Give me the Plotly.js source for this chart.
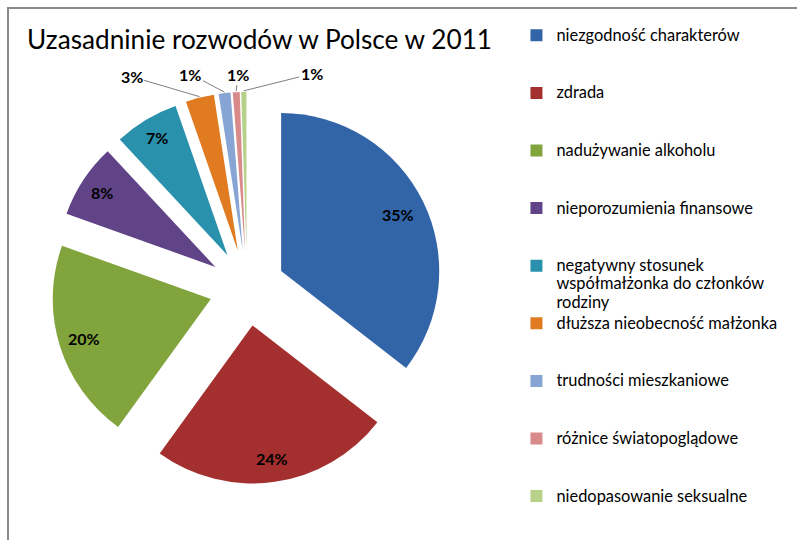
<!DOCTYPE html>
<html>
<head>
<meta charset="utf-8">
<script src="https://cdn.plot.ly/plotly-3.0.1.min.js"></script>
<style>
  html, body { margin: 0; padding: 0; background: #ffffff; }
  #frame { position: absolute; left: 7px; top: 7px; width: 790px; height: 533px;
           border-left: 2px solid #8a8a8a; border-top: 2px solid #8a8a8a; box-sizing: border-box; pointer-events: none; }
  #chart { position: absolute; left: 0; top: 0; width: 797px; height: 540px; }
</style>
</head>
<body>
<div id="chart"></div>
<div id="frame"></div>
<script>
// ---- Data ----
const categories = [
  "niezgodność charakterów",
  "zdrada",
  "nadużywanie alkoholu",
  "nieporozumienia finansowe",
  "negatywny stosunek<br>współmałżonka do członków<br>rodziny",
  "dłuższa nieobecność małżonka",
  "trudności mieszkaniowe",
  "różnice światopoglądowe",
  "niedopasowanie seksualne"
];
const shares = [35.49, 24.49, 20.49, 7.6, 6.6, 2.9, 1.2, 0.7, 0.53];
const colors = ["#3264A8", "#A3302F", "#82A43C", "#604487", "#2A91AD",
                "#E07B22", "#87A5D4", "#D98A8A", "#B7D08A"];
// label placement: inside the slice (radial fraction) or outside with a leader line (pixel offset)
const labelPlacement = ["inside", "inside", "inside", "inside", "inside",
                        "outside", "outside", "outside", "outside"];
const insideRadius = [0.82, 0.85, 0.84, 0.86, 0.87];
const outsideOffsets = [null, null, null, null, null, [-68, -20], [-34, -18], [2, -17], [68, -17]];

// ---- Geometry (mirrors Plotly pie layout) ----
const W = 797, H = 540;
const PULL = 0.24;
const domain = { x: [0.064, 0.556], y: [0.104, 0.830] };
const cx = W * (domain.x[0] + domain.x[1]) / 2;
const cy = H * (1 - (domain.y[0] + domain.y[1]) / 2);
const r = Math.min(W * (domain.x[1] - domain.x[0]), H * (domain.y[1] - domain.y[0])) / 2 / (1 + PULL);
const pullPx = PULL * r;

// legend entries: slightly larger glyphs, entries padded to three lines so they are evenly spaced
const legendLabels = categories.map((c, idx) => {
  const lines = c.split("<br>");
  const out = lines.map(l => '<span style="font-size:16.4px">' + l + '</span>');
  if (idx < categories.length - 1) {
    for (let i = lines.length; i < 3; i++) out.push("\u00a0");
  }
  return out.join("<br>");
});

const labelFont = { family: "Lato, 'Liberation Sans', sans-serif", size: 16, color: "#000000", weight: "bold" };

const total = shares.reduce((a, b) => a + b, 0);
const annotations = [];
let cum = 0;
shares.forEach((v, i) => {
  const f0 = cum / total; cum += v; const f1 = cum / total;
  const ang = (f0 + f1) / 2 * 2 * Math.PI;       // clockwise from 12 o'clock
  const dx = Math.sin(ang), dy = -Math.cos(ang);
  const pct = Math.round(v / total * 100) + "%";
  if (labelPlacement[i] === "inside") {
    const rr = pullPx + insideRadius[i] * r;
    annotations.push({
      xref: "paper", yref: "paper",
      x: (cx + rr * dx) / W, y: 1 - (cy + rr * dy) / H,
      xanchor: "center", yanchor: "middle",
      text: pct, showarrow: false, font: labelFont
    });
  } else {
    const rr = pullPx + r + 1;
    annotations.push({
      xref: "paper", yref: "paper",
      x: (cx + rr * dx) / W, y: 1 - (cy + rr * dy) / H,
      ax: outsideOffsets[i][0], ay: outsideOffsets[i][1],
      text: pct, showarrow: true, arrowhead: 0, arrowwidth: 1,
      arrowcolor: "#808080", standoff: 0, font: labelFont
    });
  }
});

const trace = {
  type: "pie",
  labels: legendLabels,
  values: shares,
  sort: false,
  direction: "clockwise",
  rotation: 0,
  pull: shares.map(() => PULL),
  marker: { colors: colors, line: { width: 0 } },
  textinfo: "none",
  domain: domain,
  hoverinfo: "label+percent"
};

const layout = {
  width: W,
  height: H,
  margin: { l: 0, r: 0, t: 0, b: 0 },
  paper_bgcolor: "#ffffff",
  showlegend: true,
  annotations: annotations,
  title: {
    text: "Uzasadninie rozwodów w Polsce w 2011",
    x: 27 / W, xanchor: "left", xref: "paper",
    y: 1 - 40 / H, yanchor: "middle", yref: "paper",
    font: { family: "Lato, 'Liberation Sans', sans-serif", size: 26.2, color: "#000000" }
  },
  legend: {
    x: 0.648, xanchor: "left",
    y: 0.9635, yanchor: "top",
    valign: "top",
    traceorder: "normal",
    font: { family: "Lato, 'Open Sans', sans-serif", size: 14, color: "#000000" },
    bgcolor: "rgba(0,0,0,0)"
  }
};

Plotly.newPlot("chart", [trace], layout, { displayModeBar: false, staticPlot: true });
</script>
</body>
</html>
